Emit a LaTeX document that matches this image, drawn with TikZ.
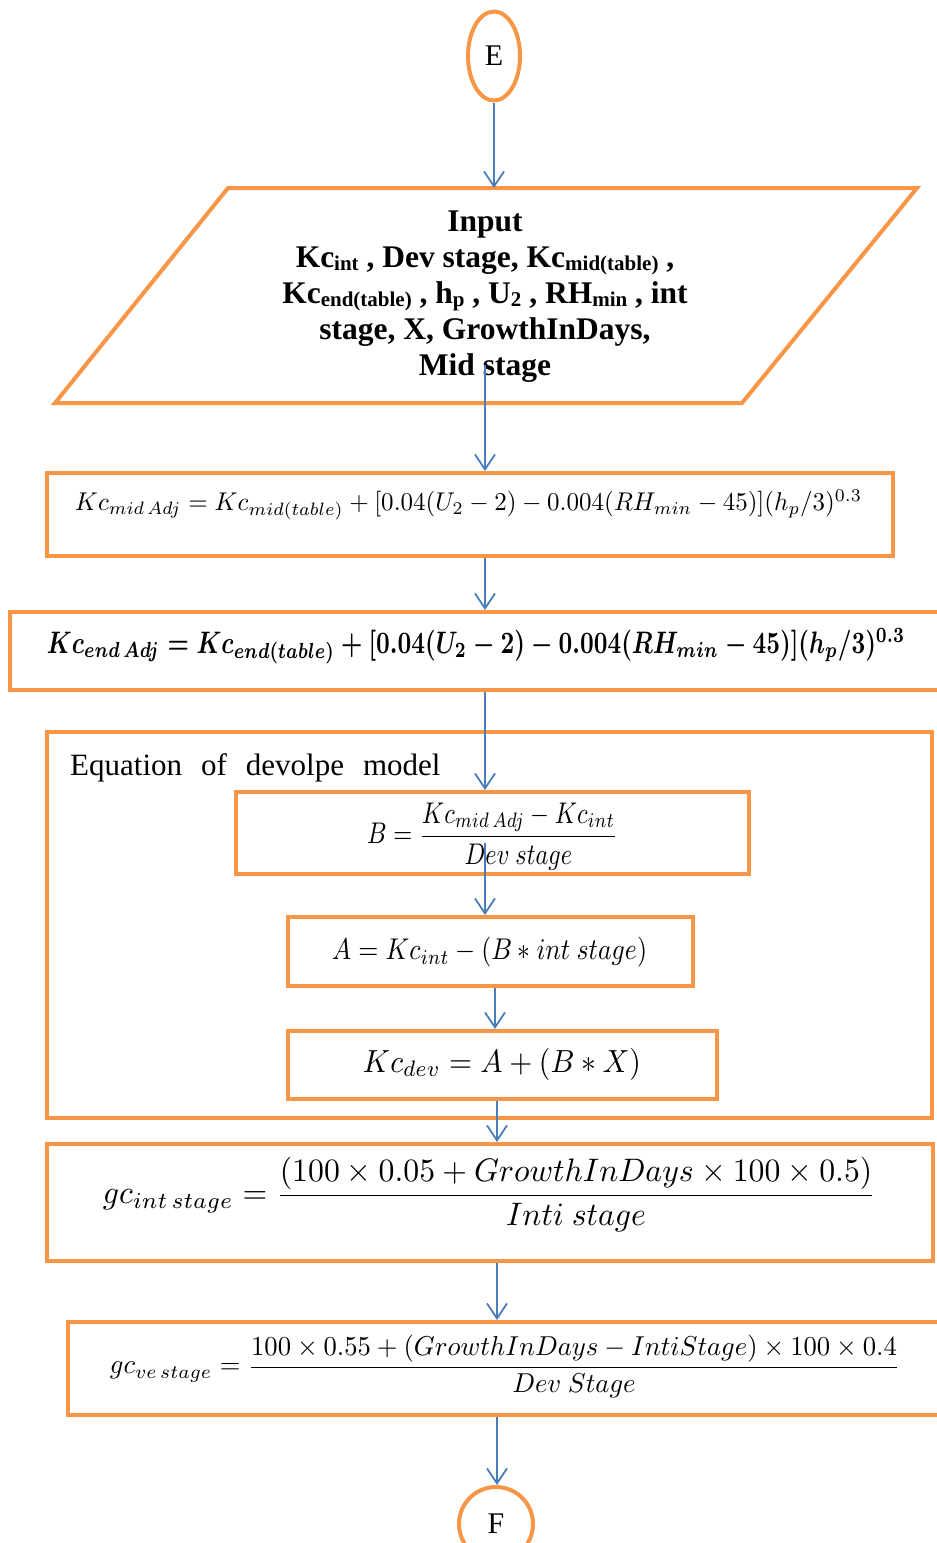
\documentclass[tikz,border=0pt]{standalone}
\usepackage{amsmath}
\usepackage{fontspec}
\setmainfont{Liberation Serif}
\usepackage{graphicx}
\usetikzlibrary{shapes.geometric,arrows.meta,calc}
\definecolor{flo}{RGB}{247,150,70}
\definecolor{arb}{RGB}{74,126,187}
\newcommand{\lsub}[1]{\raisebox{-3pt}{\fontsize{21}{21}\selectfont #1}}
\tikzset{
  box/.style={draw=flo, line width=4pt, rectangle, inner sep=0pt},
  eqn/.style={inner sep=0pt, outer sep=0pt},
  arr/.style={draw=arb, line width=1.8pt, -{Straight Barb[length=15pt,width=20pt,line width=1.8pt]}},
}
\begin{document}
\begin{tikzpicture}[x=1pt,y=-1pt]
\useasboundingbox (0,0) rectangle (937,1543);
% terminators
\node[ellipse, draw=flo, line width=4pt, minimum width=52pt, minimum height=89pt, inner sep=0pt, font=\fontsize{30}{30}\selectfont] (E) at (494,56) {E};
\node[circle, draw=flo, line width=4pt, minimum size=74pt, inner sep=0pt, font=\fontsize{30}{30}\selectfont] (F) at (496,1524) {F};
% input parallelogram
\draw[flo, line width=4pt, line join=miter] (228,188) coordinate (pTL) -- (917,188) coordinate (pTR) -- (742,403) coordinate (pBR) -- (55,403) coordinate (pBL) -- cycle;
\node[font=\fontsize{31.5}{36}\selectfont\bfseries, align=center, inner sep=0pt] (intxt) at (485,297)
 {Input\\
  Kc\lsub{int} , Dev stage, Kc\lsub{mid(table)} ,\\
  Kc\lsub{end(table)} , h\lsub{p} , U\lsub{2} , RH\lsub{min} , int\\
  stage, X, GrowthInDays,\\
  Mid stage};
% boxes
\node[box, minimum width=846pt, minimum height=83pt] (b1) at (470,514.5) {};
\node[eqn] (eq1) at (468.5,505) {\resizebox*{787pt}{30pt}{$Kc_{mid\,Adj} = Kc_{mid(table)} + [0.04(U_2 - 2) - 0.004(RH_{min} - 45)](h_p/3)^{0.3}$}};
\node[box, minimum width=935pt, minimum height=78pt] (b2) at (477.5,651) {};
\node[eqn] (eq2) at (476,646) {\resizebox*{858pt}{36pt}{\boldmath$Kc_{end\,Adj} = Kc_{end(table)} + [0.04(U_2 - 2) - 0.004(RH_{min} - 45)](h_p/3)^{0.3}$}};
\node[box, minimum width=885pt, minimum height=386pt] (grp) at (489.5,925) {};
\node[anchor=base west, inner sep=0pt, font=\fontsize{31}{31}\selectfont] (glab) at (70,775) {Equation\hspace{19pt}of\hspace{19pt}devolpe\hspace{19pt}model};
\node[box, minimum width=513pt, minimum height=82pt] (bB) at (492.5,833) {};
\node[eqn] (eqB) at (492.5,836.5) {\resizebox*{251pt}{67pt}{$B = \dfrac{Kc_{mid\,Adj} - Kc_{int}}{Dev\ stage}$}};
\node[box, minimum width=405pt, minimum height=69pt] (bA) at (490.5,951.5) {};
\node[eqn] (eqA) at (489.5,952) {\resizebox*{315pt}{30pt}{$A = Kc_{int} - (B * int\ stage)$}};
\node[box, minimum width=429pt, minimum height=68pt] (bK) at (502.5,1065) {};
\node[eqn] (eqK) at (502,1064) {\resizebox*{278pt}{32pt}{$Kc_{dev} = A + (B * X)$}};
\node[box, minimum width=886pt, minimum height=117pt] (bG1) at (490,1202.5) {};
\node[eqn] (eqG1) at (489.5,1194.5) {\resizebox*{773pt}{75pt}{$gc_{int\,stage} = \dfrac{(100\times 0.05 + GrowthInDays\times 100\times 0.5)}{Inti\ stage}$}};
\node[box, minimum width=882pt, minimum height=93pt] (bG2) at (509,1368.5) {};
\node[eqn] (eqG2) at (505,1366.5) {\resizebox*{790pt}{63pt}{$gc_{ve\,stage} = \dfrac{100\times 0.55 + (GrowthInDays - IntiStage)\times 100\times 0.4}{Dev\ Stage}$}};
% connectors
\coordinate (s1) at (485,365);
\coordinate (s2) at (485,843);
\coordinate (x495) at (495,0);
\coordinate (x497) at (497,0);
\draw[arr] (E) -- (E.south |- pTL);
\draw[arr] (s1) -- (s1 |- b1.north);
\draw[arr] (s1 |- b1.south) -- (s1 |- b2.north);
\draw[arr] (s1 |- b2.south) -- (s1 |- bB.north);
\draw[arr] (s2) -- (s2 |- bA.north);
\draw[arr] (x495 |- bA.south) -- (x495 |- bK.north);
\draw[arr] (x497 |- bK.south) -- (x497 |- bG1.north);
\draw[arr] (x497 |- bG1.south) -- (x497 |- bG2.north);
\draw[arr] (x497 |- bG2.south) -- (x497 |- F.north);
\end{tikzpicture}
\end{document}
